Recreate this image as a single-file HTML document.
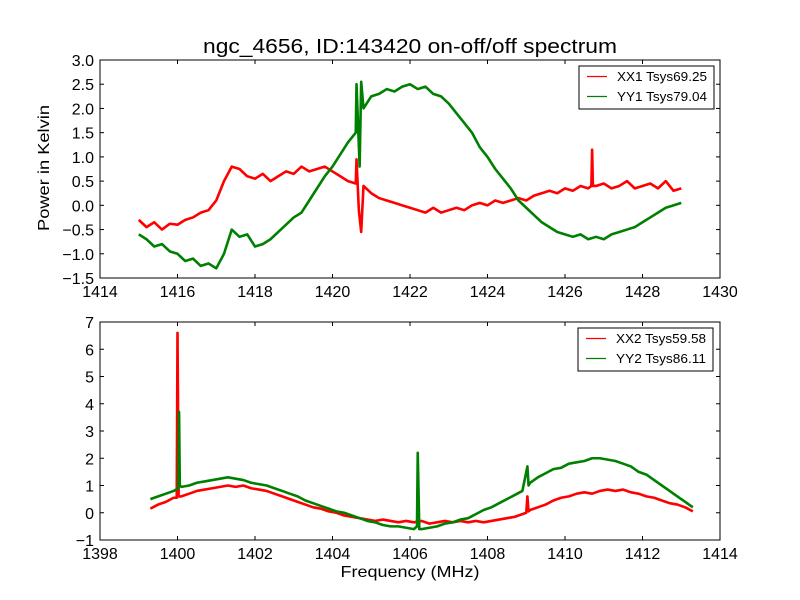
<!DOCTYPE html>
<html><head><meta charset="utf-8">
<style>
html,body{margin:0;padding:0;background:#fff;}
svg{display:block;font-family:"Liberation Sans","DejaVu Sans",sans-serif;}
</style></head>
<body>
<svg id="chart" width="800" height="600" viewBox="0 0 800 600" xmlns="http://www.w3.org/2000/svg">
<rect width="800" height="600" fill="#fff"/>
<text x="410" y="53" font-size="20" text-anchor="middle" textLength="414" lengthAdjust="spacingAndGlyphs">ngc_4656, ID:143420 on-off/off spectrum</text>
<text transform="translate(49,168) rotate(-90)" font-size="16" text-anchor="middle" textLength="126" lengthAdjust="spacingAndGlyphs">Power in Kelvin</text>
<text x="410" y="577" font-size="16" text-anchor="middle" textLength="139" lengthAdjust="spacingAndGlyphs">Frequency (MHz)</text>
</svg>
<script>
// ---- top panel data (grid 1415.0..1429.0 step 0.2) ----
const topStart = 1415.0;
const topStep = 0.2;
const xx1Values = [-0.3,-0.45,-0.35,-0.5,-0.38,-0.4,-0.3,-0.25,-0.15,-0.1,0.1,0.5,0.8,0.75,0.6,0.55,0.65,0.5,0.6,0.7,0.65,0.8,0.7,0.75,0.8,0.7,0.6,0.5,0.45,0.4,0.25,0.15,0.1,0.05,0.0,-0.05,-0.1,-0.15,-0.05,-0.15,-0.1,-0.05,-0.1,0.0,0.05,0.0,0.1,0.05,0.1,0.15,0.1,0.2,0.25,0.3,0.25,0.35,0.3,0.4,0.35,0.4,0.45,0.35,0.4,0.5,0.35,0.4,0.45,0.35,0.5,0.3,0.35];
const xx1SpikeFreq = [1420.62,1420.68,1420.74,1426.68,1426.7,1426.72];
const xx1SpikeVal = [0.95,-0.1,-0.55,0.4,1.15,0.4];
const yy1Values = [-0.6,-0.7,-0.85,-0.8,-0.95,-1.0,-1.15,-1.1,-1.25,-1.2,-1.3,-1.0,-0.5,-0.65,-0.6,-0.85,-0.8,-0.7,-0.55,-0.4,-0.25,-0.15,0.1,0.35,0.6,0.8,1.05,1.3,1.5,2.0,2.25,2.3,2.4,2.35,2.45,2.5,2.4,2.45,2.3,2.25,2.1,1.9,1.7,1.5,1.2,1.0,0.75,0.55,0.35,0.1,-0.05,-0.2,-0.35,-0.45,-0.55,-0.6,-0.65,-0.6,-0.7,-0.65,-0.7,-0.6,-0.55,-0.5,-0.45,-0.35,-0.25,-0.15,-0.05,0.0,0.05];
const yy1SpikeFreq = [1420.62,1420.7,1420.74];
const yy1SpikeVal = [2.5,0.8,2.55];
const topXTicks = [1414,1416,1418,1420,1422,1424,1426,1428,1430];
const topYTicks = [-1.5,-1.0,-0.5,0.0,0.5,1.0,1.5,2.0,2.5,3.0];
const topYTickLabels = ["\u22121.5","\u22121.0","\u22120.5","0.0","0.5","1.0","1.5","2.0","2.5","3.0"];
const topLegend = ["XX1 Tsys69.25","YY1 Tsys79.04"];

// ---- bottom panel data (grid 1399.3..1413.3 step 0.2) ----
const botStart = 1399.3;
const botStep = 0.2;
const xx2Values = [0.15,0.3,0.4,0.55,0.6,0.7,0.8,0.85,0.9,0.95,1.0,0.95,1.0,0.9,0.85,0.8,0.7,0.6,0.5,0.4,0.3,0.2,0.15,0.05,0.0,-0.1,-0.15,-0.2,-0.25,-0.3,-0.25,-0.3,-0.35,-0.3,-0.35,-0.3,-0.4,-0.35,-0.3,-0.35,-0.3,-0.35,-0.3,-0.35,-0.3,-0.25,-0.2,-0.15,-0.05,0.1,0.2,0.3,0.45,0.55,0.6,0.7,0.75,0.7,0.8,0.85,0.8,0.85,0.75,0.7,0.6,0.55,0.45,0.35,0.3,0.2,0.05];
const xx2SpikeFreq = [1399.98,1400.0,1400.03,1409.0,1409.03,1409.06];
const xx2SpikeVal = [0.55,6.6,0.6,0.0,0.6,0.05];
const yy2Values = [0.5,0.6,0.7,0.8,0.95,1.0,1.1,1.15,1.2,1.25,1.3,1.25,1.2,1.1,1.05,1.0,0.9,0.8,0.7,0.6,0.45,0.35,0.25,0.15,0.05,0.0,-0.1,-0.2,-0.3,-0.35,-0.45,-0.5,-0.5,-0.55,-0.6,-0.6,-0.55,-0.5,-0.4,-0.35,-0.25,-0.2,-0.05,0.1,0.2,0.35,0.5,0.65,0.8,1.1,1.3,1.45,1.6,1.65,1.8,1.85,1.9,2.0,2.0,1.95,1.9,1.8,1.7,1.5,1.4,1.2,1.0,0.8,0.6,0.4,0.2];
const yy2SpikeFreq = [1400.02,1400.04,1400.06,1406.18,1406.2,1406.24,1409.03,1409.06];
const yy2SpikeVal = [0.9,3.7,1.0,-0.5,2.2,-0.6,1.7,1.0];
const botXTicks = [1398,1400,1402,1404,1406,1408,1410,1412,1414];
const botYTicks = [-1,0,1,2,3,4,5,6,7];
const botYTickLabels = ["\u22121","0","1","2","3","4","5","6","7"];
const botLegend = ["XX2 Tsys59.58","YY2 Tsys86.11"];

const NS = "http://www.w3.org/2000/svg";
const svg = document.getElementById("chart");

function mk(tag, attrs, parent) {
  const el = document.createElementNS(NS, tag);
  for (const k in attrs) el.setAttribute(k, attrs[k]);
  (parent || svg).appendChild(el);
  return el;
}

function series(start, step, vals, sf, sv) {
  const pts = vals.map((v, i) => [start + step * i, v]);
  sf.forEach((f, i) => pts.push([f, sv[i]]));
  pts.sort((a, b) => a[0] - b[0]);
  return pts;
}

function panel(p) {
  const g = mk("g", {});
  
  
  const sx = v => p.x0 + (v - p.xmin) / (p.xmax - p.xmin) * (p.x1 - p.x0);
  const sy = v => p.y1 - (v - p.ymin) / (p.ymax - p.ymin) * (p.y1 - p.y0);
  p.series.forEach(s => {
    const d = s.pts.map((q, i) => (i ? "L" : "M") + sx(q[0]).toFixed(2) + "," + sy(q[1]).toFixed(2)).join("");
    const path = mk("path", {d: d, fill: "none", stroke: s.color, "stroke-width": 2.6, "stroke-linejoin": "round"}, g);
    
    
  });
  const fr = mk("rect", {x: p.x0, y: p.y0, width: p.x1 - p.x0, height: p.y1 - p.y0, fill: "none", stroke: "#000", "stroke-width": 1}, g);
  
  
  p.xticks.forEach(t => {
    const x = sx(t);
    mk("line", {x1: x, x2: x, y1: p.y1, y2: p.y1 - 4, stroke: "#000"}, g);
    mk("line", {x1: x, x2: x, y1: p.y0, y2: p.y0 + 4, stroke: "#000"}, g);
    const tx = mk("text", {x: x, y: p.y1 + 19, "font-size": 16, "text-anchor": "middle"}, g);
    tx.textContent = String(t);
    
    
  });
  p.yticks.forEach((t, i) => {
    const y = sy(t);
    mk("line", {x1: p.x0, x2: p.x0 + 4, y1: y, y2: y, stroke: "#000"}, g);
    mk("line", {x1: p.x1, x2: p.x1 - 4, y1: y, y2: y, stroke: "#000"}, g);
    const ty = mk("text", {x: p.x0 - 6, y: y + 6, "font-size": 16, "text-anchor": "end"}, g);
    ty.textContent = p.ylabels[i];
    
    
  });
  const lg = mk("g", {}, g);
  
  
  mk("rect", {x: p.lx, y: p.ly, width: 135, height: 43, fill: "#fff", stroke: "#000", "stroke-width": 1}, lg);
  p.series.forEach((s, i) => {
    const y = p.ly + 10.5 + i * 20;
    mk("line", {x1: p.lx + 8, x2: p.lx + 28, y1: y, y2: y, stroke: s.color, "stroke-width": 1.3}, lg);
    const t = mk("text", {x: p.lx + 38, y: y + 4.5, "font-size": 12.5, textLength: 90, lengthAdjust: "spacingAndGlyphs"}, lg);
    t.textContent = p.legend[i];
    
    
  });
}

panel({
  name: "top-panel", x0: 100, x1: 720, y0: 60, y1: 278,
  xmin: 1414, xmax: 1430, ymin: -1.5, ymax: 3.0,
  xticks: topXTicks, yticks: topYTicks, ylabels: topYTickLabels,
  legend: topLegend, lx: 579, ly: 66,
  series: [
    {name: "xx1-line", color: "#ff0000", pts: series(topStart, topStep, xx1Values, xx1SpikeFreq, xx1SpikeVal)},
    {name: "yy1-line", color: "#008000", pts: series(topStart, topStep, yy1Values, yy1SpikeFreq, yy1SpikeVal)}
  ]
});
panel({
  name: "bottom-panel", x0: 100, x1: 720, y0: 322, y1: 540,
  xmin: 1398, xmax: 1414, ymin: -1, ymax: 7,
  xticks: botXTicks, yticks: botYTicks, ylabels: botYTickLabels,
  legend: botLegend, lx: 578, ly: 328,
  series: [
    {name: "xx2-line", color: "#ff0000", pts: series(botStart, botStep, xx2Values, xx2SpikeFreq, xx2SpikeVal)},
    {name: "yy2-line", color: "#008000", pts: series(botStart, botStep, yy2Values, yy2SpikeFreq, yy2SpikeVal)}
  ]
});
</script>
</body></html>
